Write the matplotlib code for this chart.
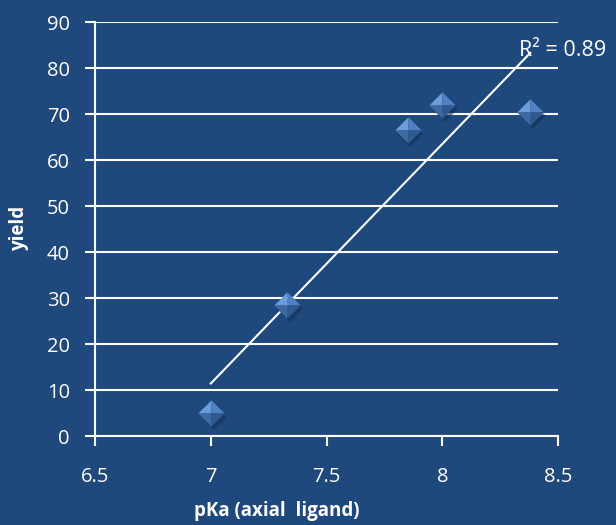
import numpy as np
import matplotlib
matplotlib.use("Agg")
import matplotlib.pyplot as plt

# Data
pka = [7.0, 7.33, 7.85, 8.0, 8.38]
yield_vals = [5, 28.5, 66.5, 72, 70.5]
x_ticks = [6.5, 7, 7.5, 8, 8.5]
x_tick_labels = ["6.5", "7", "7.5", "8", "8.5"]
y_ticks = [0, 10, 20, 30, 40, 50, 60, 70, 80, 90]
r2_label = "R² = 0.89"
x_label = "pKa (axial  ligand)"
y_label = "yield"

BG = "#1F497D"
plt.rcParams['font.family'] = ['Open Sans', 'DejaVu Sans']

fig = plt.figure(figsize=(6.16, 5.25), dpi=100, facecolor=BG)
ax = fig.add_axes([0.1542, 0.1695, 0.7518, 0.7885], facecolor=BG)

ax.set_xlim(6.5, 8.5)
ax.set_ylim(0, 90)
ax.set_yticks(y_ticks)
ax.set_xticks(x_ticks)
ax.set_xticklabels(x_tick_labels)
ax.grid(axis='y', color='white', linewidth=1.5)
ax.set_axisbelow(True)
for s in ['top', 'right']:
    ax.spines[s].set_visible(False)
for s in ['left', 'bottom']:
    ax.spines[s].set_color('white')
    ax.spines[s].set_linewidth(1.5)
ax.tick_params(colors='white', labelcolor='white', labelsize=14.5, length=7, width=1.5, direction='out')
ax.tick_params(axis='x', pad=15)
ax.tick_params(axis='y', pad=11)

# trendline
coef = np.polyfit(pka, yield_vals, 1)
xs = np.array([min(pka), max(pka)])
ax.plot(xs, np.polyval(coef, xs), color='white', linewidth=1.5, zorder=3)

# beveled diamond markers
ms = 19
ax.plot(np.array(pka) + 0.012, np.array(yield_vals) - 0.9, linestyle='none', marker='D', markersize=ms * 0.72,
        color='#152f52', alpha=0.6, zorder=4, markeredgewidth=0)
facets = [
    ([(0, 0), (-1, 0), (0, 1), (0, 0)], '#6b9ddb'),
    ([(0, 0), (0, 1), (1, 0), (0, 0)], '#4f82c4'),
    ([(0, 0), (1, 0), (0, -1), (0, 0)], '#2f5a90'),
    ([(0, 0), (0, -1), (-1, 0), (0, 0)], '#3d6aa3'),
]
for verts, c in facets:
    ax.plot(pka, yield_vals, linestyle='none', marker=verts, markersize=ms,
            color=c, markeredgewidth=0, zorder=5)

ax.text(8.33, 83.8, r2_label, color='white', fontsize=15.5, va='center', ha='left', zorder=6, clip_on=False)

ax.set_xlabel(x_label, color='white', fontsize=13.5, fontweight='bold')
ax.set_ylabel(y_label, color='white', fontsize=13.5, fontweight='bold')
ax.xaxis.set_label_coords(0.393, -0.157)
ax.yaxis.set_label_coords(-0.143, 0.502)

fig.savefig("out.png", dpi=100, facecolor=BG)
